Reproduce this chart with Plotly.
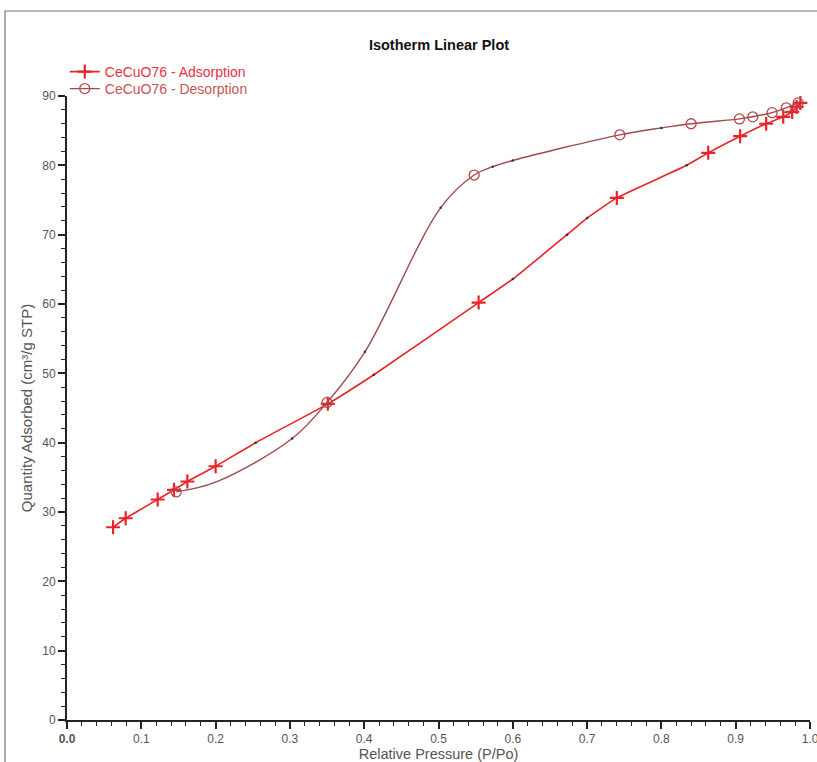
import plotly.graph_objects as go

# ---- data ----
ads_x = [0.062, 0.079, 0.122, 0.144, 0.162, 0.200, 0.254, 0.351, 0.413, 0.554, 0.600, 0.673, 0.700,
         0.740, 0.834, 0.863, 0.906, 0.941, 0.964, 0.976, 0.982, 0.987]
ads_y = [27.8, 29.1, 31.8, 33.2, 34.4, 36.6, 40.0, 45.6, 49.8, 60.2, 63.6, 70.0, 72.4,
         75.3, 80.0, 81.8, 84.2, 86.0, 87.0, 87.7, 88.4, 89.0]
# 1 = symbol, 0 = small dot, 2 = curve point only
ads_mark = [1, 1, 1, 1, 1, 1, 0, 1, 0, 1, 0, 0, 0, 1, 0, 1, 1, 1, 1, 1, 1, 1]

des_x = [0.984, 0.968, 0.949, 0.923, 0.905, 0.840, 0.800, 0.744, 0.600, 0.573, 0.548, 0.503,
         0.401, 0.350, 0.303, 0.200, 0.147]
des_y = [89.0, 88.3, 87.6, 87.0, 86.7, 86.0, 85.4, 84.4, 80.7, 79.8, 78.6, 73.9,
         53.1, 45.8, 40.6, 34.3, 32.9]
des_mark = [1, 1, 1, 1, 1, 1, 0, 1, 0, 0, 1, 0, 0, 1, 0, 2, 1]

x_ticks = [0.0, 0.1, 0.2, 0.3, 0.4, 0.5, 0.6, 0.7, 0.8, 0.9, 1.0]
x_labels = ["<b>0.0</b>", "0.1", "0.2", "0.3", "0.4", "0.5", "0.6", "0.7", "0.8", "0.9", "1.0"]
y_ticks = [0, 10, 20, 30, 40, 50, 60, 70, 80, 90]

ADS = "#e8232a"
DES_LINE = "#9c4c4c"
DES_MK = "#b84a4a"
DOT = "#333333"
FONT = "Liberation Sans, Arial, sans-serif"
TXT = "#555555"

def sub(xs, ys, flags, want):
    px = [x for x, f in zip(xs, flags) if f == want]
    py = [y for y, f in zip(ys, flags) if f == want]
    return px, py

fig = go.Figure()

# adsorption
fig.add_trace(go.Scatter(x=ads_x, y=ads_y, mode="lines", showlegend=False,
                         line=dict(color=ADS, width=1.6, shape="spline", smoothing=0.5),
                         cliponaxis=False, hoverinfo="skip"))
mx, my = sub(ads_x, ads_y, ads_mark, 1)
fig.add_trace(go.Scatter(x=mx, y=my, mode="markers", showlegend=False, cliponaxis=False,
                         marker=dict(symbol="cross-thin-open", size=10, color=ADS,
                                     line=dict(width=2.2, color=ADS))))
dx, dy = sub(ads_x, ads_y, ads_mark, 0)
fig.add_trace(go.Scatter(x=dx, y=dy, mode="markers", showlegend=False, cliponaxis=False,
                         marker=dict(symbol="circle", size=2.5, color=DOT)))

# desorption
fig.add_trace(go.Scatter(x=des_x, y=des_y, mode="lines", showlegend=False,
                         line=dict(color=DES_LINE, width=1.4, shape="spline", smoothing=1.0),
                         cliponaxis=False, hoverinfo="skip"))
mx, my = sub(des_x, des_y, des_mark, 1)
fig.add_trace(go.Scatter(x=mx, y=my, mode="markers", showlegend=False, cliponaxis=False,
                         marker=dict(symbol="circle-open", size=10, color=DES_MK,
                                     line=dict(width=1.3, color=DES_MK))))
dx, dy = sub(des_x, des_y, des_mark, 0)
fig.add_trace(go.Scatter(x=dx, y=dy, mode="markers", showlegend=False, cliponaxis=False,
                         marker=dict(symbol="circle", size=2.5, color=DOT)))

# legend entries (two separate legends so their spacing can match)
fig.add_trace(go.Scatter(x=[None], y=[None], mode="lines+markers", legend="legend",
                         name="<span style='color:#e8323f'>CeCuO76 - Adsorption</span>",
                         line=dict(color=ADS, width=1.6),
                         marker=dict(symbol="cross-thin-open", size=10, color=ADS,
                                     line=dict(width=2.2, color=ADS))))
fig.add_trace(go.Scatter(x=[None], y=[None], mode="lines+markers", legend="legend2",
                         name="<span style='color:#c85258'>CeCuO76 - Desorption</span>",
                         line=dict(color=DES_LINE, width=1.4),
                         marker=dict(symbol="circle-open", size=10, color=DES_MK,
                                     line=dict(width=1.3, color=DES_MK))))

def ypaper(px):
    return (720 - px) / 624

leg_common = dict(x=-0.003, xanchor="left", yanchor="middle", bgcolor="rgba(0,0,0,0)",
                  font=dict(size=14), itemwidth=30)

fig.update_layout(
    width=817, height=762,
    margin=dict(l=67, r=7, t=96, b=42),
    paper_bgcolor="white", plot_bgcolor="white",
    font=dict(family=FONT, size=12, color=TXT),
    title=dict(text="<b>Isotherm Linear Plot</b>", x=(439 / 817), xanchor="center",
               y=1 - 45 / 762, yanchor="middle", font=dict(size=14.5, color="#111")),
    legend=dict(y=ypaper(72), **leg_common),
    legend2=dict(y=ypaper(89), **leg_common),
    showlegend=True,
    xaxis=dict(range=[0, 1.0], showgrid=False, zeroline=False, showline=True, automargin=False,
               linecolor="#222", linewidth=2, ticks="outside", ticklen=7, tickwidth=1.5,
               tickcolor="#222", tickvals=x_ticks, ticktext=x_labels, ticklabeloverflow="allow",
               tickfont=dict(size=12, color=TXT),
               minor=dict(dtick=0.02, tick0=0, ticks="outside", ticklen=4, tickcolor="#222", tickwidth=1.2),
               title=dict(text="Relative Pressure (P/Po)", standoff=5, font=dict(size=14.5, color=TXT))),
    yaxis=dict(range=[0, 90], showgrid=False, zeroline=False, showline=True, automargin=False,
               linecolor="#222", linewidth=2, ticks="outside", ticklen=7, tickwidth=1.5,
               tickcolor="#222", tickvals=y_ticks, tickfont=dict(size=12, color=TXT),
               minor=dict(dtick=2, tick0=0, ticks="outside", ticklen=4, tickcolor="#222", tickwidth=1.2),
               title=dict(text="Quantity Adsorbed (cm³/g STP)", standoff=6, font=dict(size=15, color=TXT))),
    shapes=[dict(type="rect", xref="paper", yref="paper",
                 x0=(5 - 67) / 743, x1=1.03, y0=-0.1, y1=(720 - 11) / 624,
                 line=dict(color="#777", width=1.2), fillcolor="rgba(0,0,0,0)", layer="below")],
)

fig.write_html("out.html")
